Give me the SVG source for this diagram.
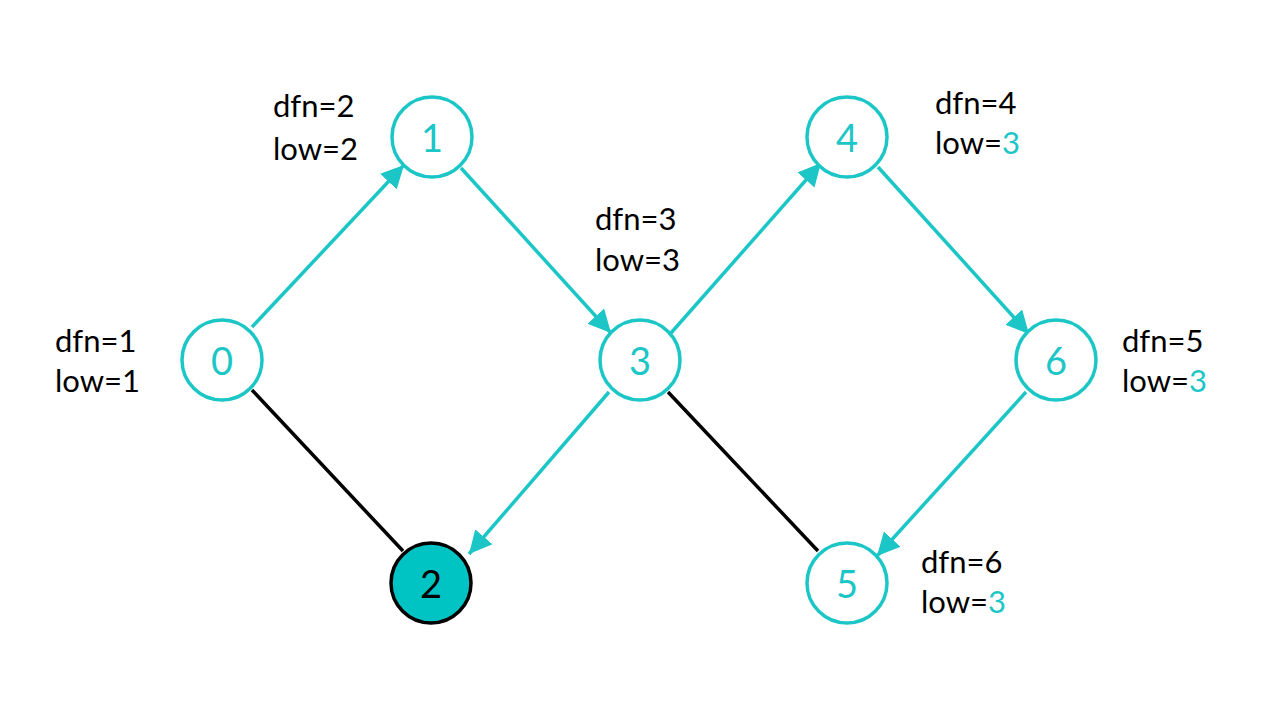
<svg xmlns="http://www.w3.org/2000/svg" width="1280" height="720" viewBox="0 0 1280 720">
<style>
.n circle{fill:#fff;stroke:#1CC6C6;stroke-width:3.5}
.n text{font-family:Lato,"Noto Sans",sans-serif;font-size:38px;fill:#1CC6C6;text-anchor:middle;dominant-baseline:central}
.n.f circle{fill:#00C4C4;stroke:#000}
.n.f text{fill:#000}
.t{stroke:#1CC6C6;stroke-width:3.5;fill:none}
.b{stroke:#000;stroke-width:3.5;fill:none}
.l{font-family:Lato,"Noto Sans",sans-serif;font-size:31px;fill:#000}
.c{fill:#1CC6C6}
</style>
<defs>
<marker id="ah" viewBox="0 0 10 10" refX="10" refY="5" markerWidth="6.5" markerHeight="6.5" markerUnits="strokeWidth" orient="auto"><path d="M0,0 L10,5 L0,10 z" fill="#1CC6C6"/></marker>
</defs>
<g id="edges">
<line class="t" x1="252" y1="327" x2="404" y2="165" marker-end="url(#ah)"/>
<line class="t" x1="461" y1="168" x2="611" y2="333" marker-end="url(#ah)"/>
<line class="t" x1="671" y1="333" x2="821" y2="163" marker-end="url(#ah)"/>
<line class="t" x1="878" y1="167" x2="1029" y2="334" marker-end="url(#ah)"/>
<line class="t" x1="1026" y1="392" x2="877" y2="556" marker-end="url(#ah)"/>
<line class="t" x1="609" y1="392" x2="469" y2="554" marker-end="url(#ah)"/>
<line class="b" x1="252" y1="390" x2="403" y2="551"/>
<line class="b" x1="668" y1="392" x2="818" y2="551"/>
</g>
<g id="node0" class="n"><circle cx="222" cy="360" r="40"/><text x="222" y="360">0</text></g>
<g id="node1" class="n"><circle cx="432" cy="137" r="40"/><text x="432" y="137">1</text></g>
<g id="node2" class="n f"><circle cx="431" cy="583" r="40"/><text x="431" y="583">2</text></g>
<g id="node3" class="n"><circle cx="640" cy="360" r="40"/><text x="640" y="360">3</text></g>
<g id="node4" class="n"><circle cx="847" cy="137" r="40"/><text x="847" y="137">4</text></g>
<g id="node5" class="n"><circle cx="847" cy="583" r="40"/><text x="847" y="583">5</text></g>
<g id="node6" class="n"><circle cx="1056" cy="360" r="40"/><text x="1056" y="360">6</text></g>
<g id="labels">
<text class="l" x="55" y="352">dfn=1</text><text class="l" x="55" y="392">low=1</text>
<text class="l" x="273" y="117">dfn=2</text><text class="l" x="273" y="160">low=2</text>
<text class="l" x="595" y="230">dfn=3</text><text class="l" x="595" y="271">low=3</text>
<text class="l" x="935" y="114">dfn=4</text><text class="l" x="935" y="154">low=<tspan class="c">3</tspan></text>
<text class="l" x="1122" y="352">dfn=5</text><text class="l" x="1122" y="392">low=<tspan class="c">3</tspan></text>
<text class="l" x="921" y="573">dfn=6</text><text class="l" x="921" y="613">low=<tspan class="c">3</tspan></text>
</g>
</svg>
